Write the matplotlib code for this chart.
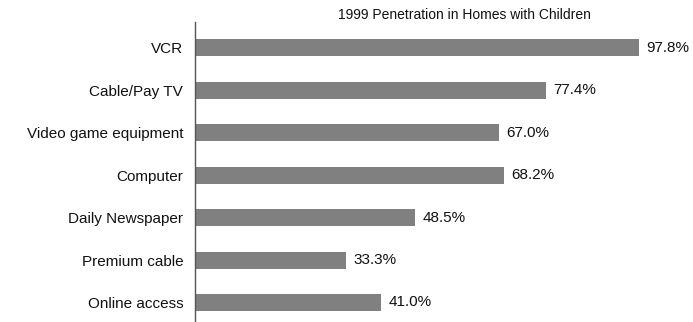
import matplotlib
matplotlib.use('Agg')
import matplotlib.pyplot as plt

plt.rcParams['font.family'] = ['Liberation Sans', 'DejaVu Sans']

categories = ['VCR', 'Cable/Pay TV', 'Video game equipment', 'Computer',
              'Daily Newspaper', 'Premium cable', 'Online access']
values = [97.8, 77.4, 67.0, 68.2, 48.5, 33.3, 41.0]
title = '1999 Penetration in Homes with Children'

fig = plt.figure(figsize=(6.93, 3.22), dpi=100)
ax = fig.add_axes([195/693, 0.0, 1 - 195/693, 1 - 22/322])

pos = list(range(len(categories)))
ax.barh(pos, values, height=0.4, color='#808080')
for p, v in zip(pos, values):
    ax.text(v + 1.6, p, '%.1f%%' % v, va='center', ha='left', fontsize=11, color='#111111')

ax.set_xlim(0, 109.8)
ax.set_ylim(6.46, -0.61)
ax.set_yticks(pos)
ax.set_yticklabels(categories, fontsize=11, color='#111111')
ax.tick_params(axis='y', length=0, pad=8.5)
ax.set_xticks([])
for s in ['top', 'right', 'bottom']:
    ax.spines[s].set_visible(False)
ax.spines['left'].set_color('#555555')
ax.spines['left'].set_linewidth(1.0)

fig.text(464/693, 1 - 15/322, title, ha='center', va='center', fontsize=10, color='#111111')

fig.savefig('out.png', dpi=100)
